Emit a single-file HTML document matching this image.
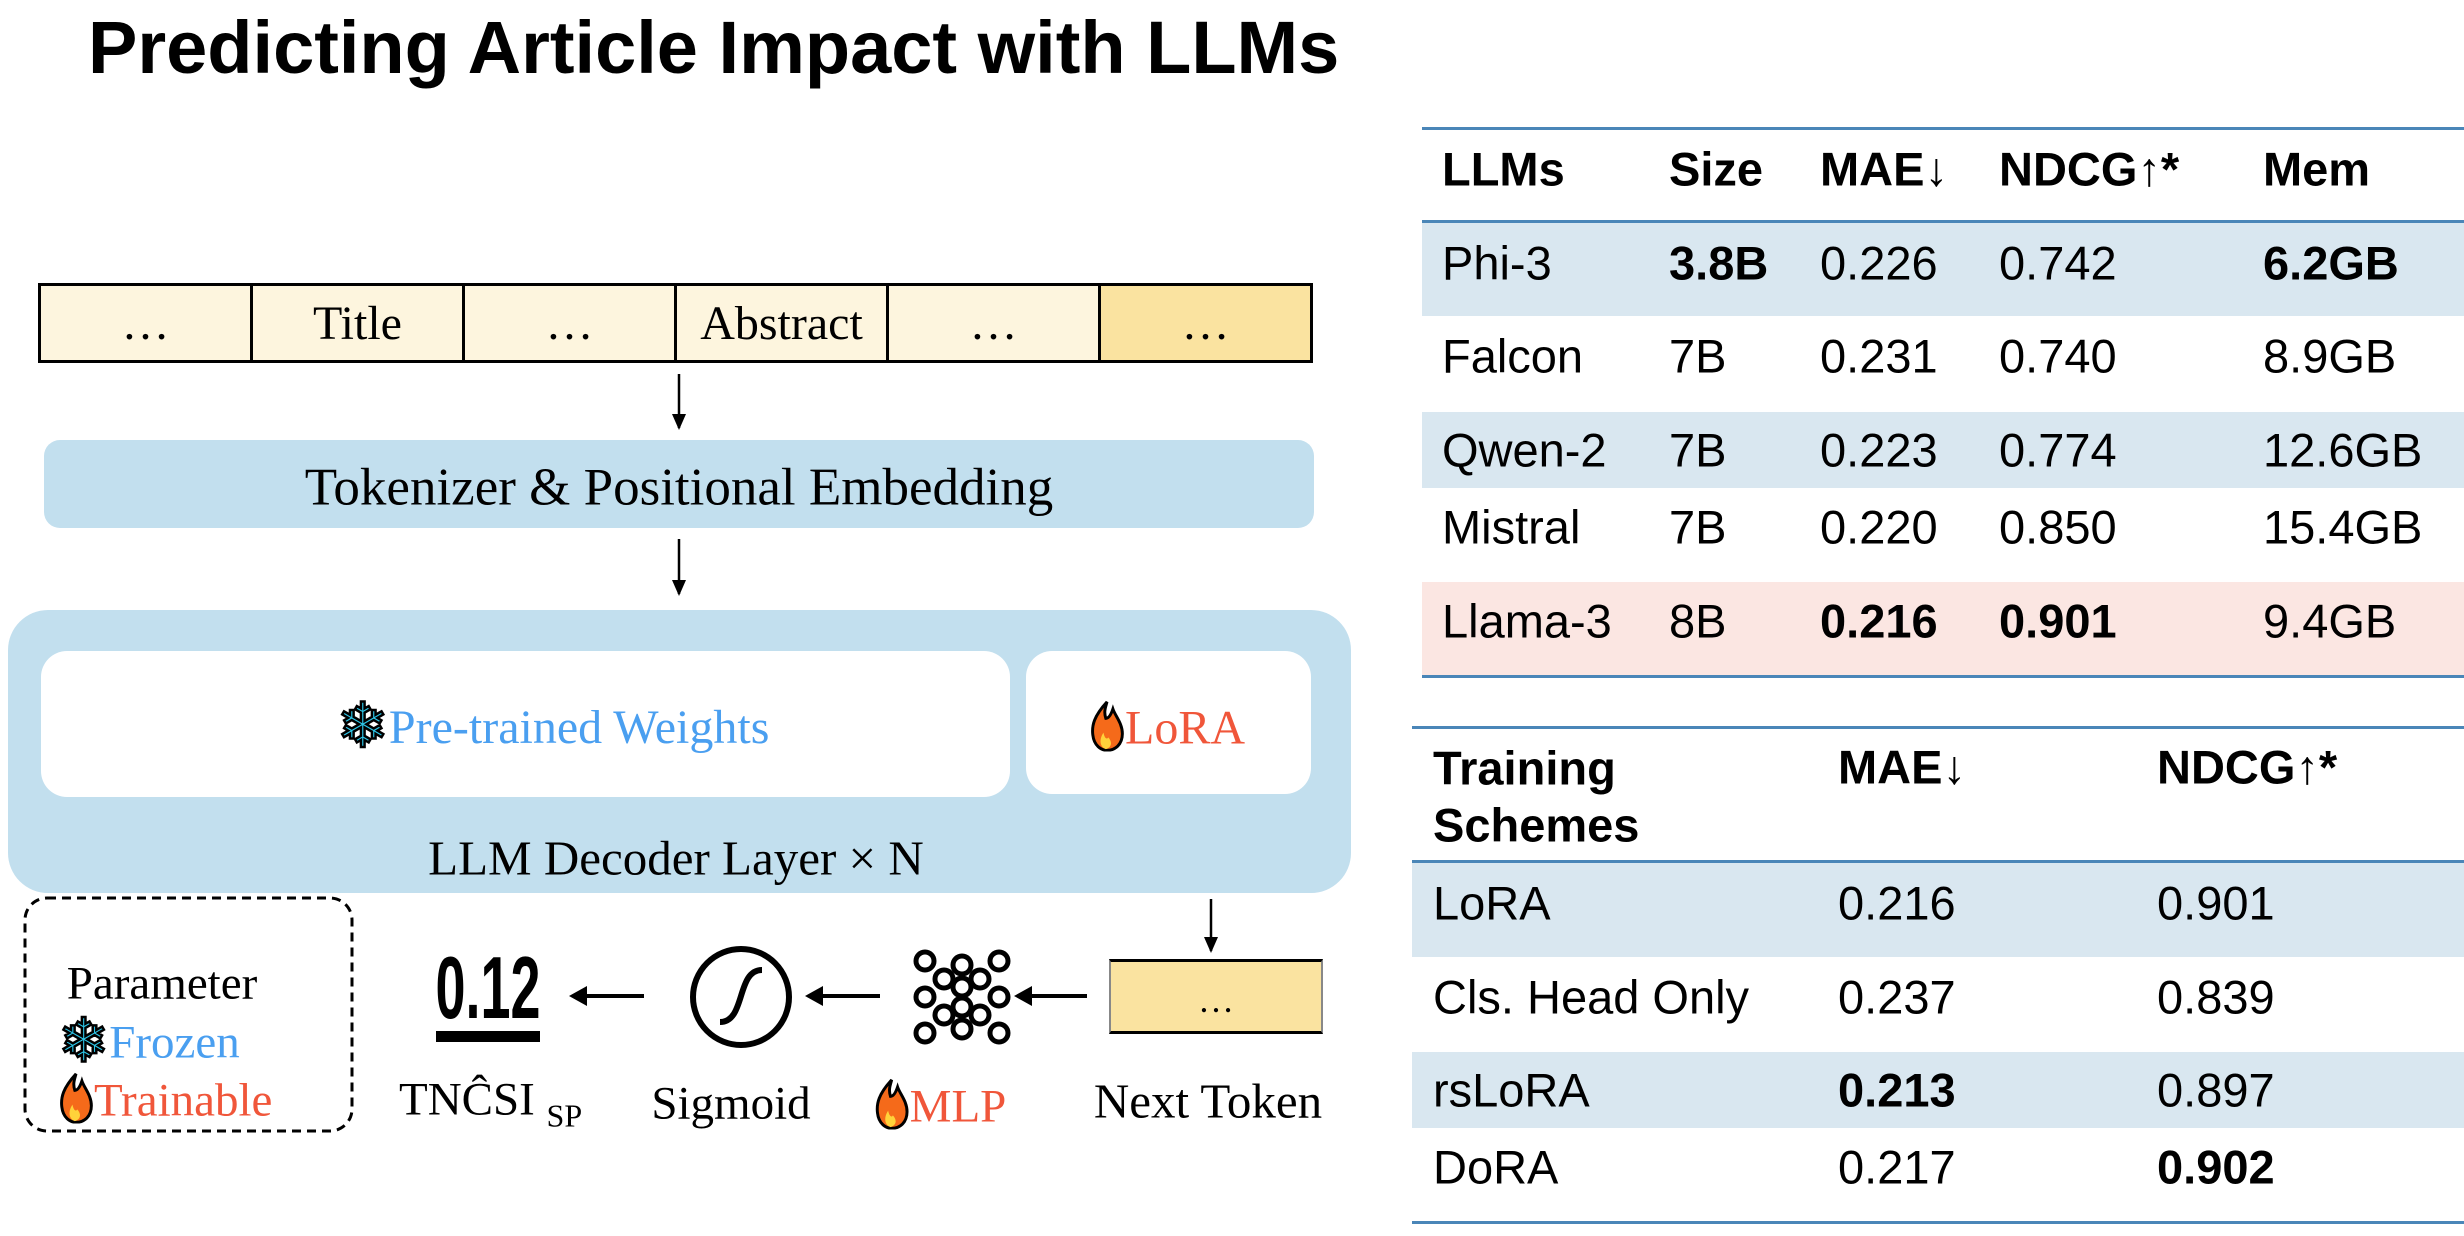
<!DOCTYPE html>
<html><head><meta charset="utf-8">
<style>
body{margin:0;width:2464px;height:1236px;background:#fff;position:relative;overflow:hidden;font-family:"Liberation Sans",sans-serif}
.a{position:absolute}
.t{position:absolute;white-space:nowrap;line-height:1;transform:translateY(-50%)}
.ser{font-family:"Liberation Serif",serif}
.c{transform:translate(-50%,-50%)}
.cell{position:absolute;top:0;height:100%;border-right:3px solid #000;box-sizing:border-box;display:flex;align-items:center;justify-content:center;font-family:"Liberation Serif",serif;font-size:48px}
.hl{position:absolute;height:3px;background:#4a86b8}
.tb{font-size:47px}
b{font-weight:bold}
.sf{color:#2ec6e8;-webkit-text-stroke:2.5px #000;font-size:1.3em;vertical-align:-4px;font-family:"DejaVu Sans",sans-serif}
</style></head><body>
<div class="t" style="left:88px;top:48px;font-size:74px;font-weight:bold">Predicting Article Impact with LLMs</div>

<!-- token bar -->
<div class="a" style="left:38px;top:283px;width:1275px;height:80px;border:3px solid #000;box-sizing:border-box;background:#fdf5de">
 <div class="cell" style="left:0;width:212px">…</div>
 <div class="cell" style="left:212px;width:212px">Title</div>
 <div class="cell" style="left:424px;width:212px">…</div>
 <div class="cell" style="left:636px;width:212px">Abstract</div>
 <div class="cell" style="left:848px;width:212px">…</div>
 <div class="cell" style="left:1060px;width:209px;border-right:none;background:#fae3a0">…</div>
</div>

<svg class="a" style="left:0;top:0" width="2464" height="1236">
 <g stroke="#000" stroke-width="2.5" fill="none">
  <line x1="679" y1="374" x2="679" y2="428"/>
  <line x1="679" y1="539" x2="679" y2="594"/>
  <line x1="1211" y1="899" x2="1211" y2="951"/>
 </g>
 <path d="M672,414 L679,430 L686,414 z"/>
 <path d="M672,580 L679,596 L686,580 z"/>
 <path d="M1204,937 L1211,953 L1218,937 z"/>
 <g stroke="#000" stroke-width="4">
  <line x1="1030" y1="996" x2="1087" y2="996"/>
  <line x1="820" y1="996" x2="880" y2="996"/>
  <line x1="585" y1="996" x2="644" y2="996"/>
 </g>
 <path d="M1014,996 L1032,986 L1032,1006 z"/>
 <path d="M805,996 L823,986 L823,1006 z"/>
 <path d="M569,996 L587,986 L587,1006 z"/>
 <!-- sigmoid -->
 <ellipse cx="741" cy="997" rx="48" ry="48" fill="none" stroke="#000" stroke-width="6"/>
 <path d="M720,1022 C746,1022 736,970 762,970" fill="none" stroke="#000" stroke-width="6"/>
 <!-- MLP -->
 <g fill="none" stroke="#000" stroke-width="5">
  <circle cx="925" cy="961" r="9"/><circle cx="999" cy="961" r="9"/>
  <circle cx="925" cy="997" r="9"/><circle cx="999" cy="997" r="9"/>
  <circle cx="925" cy="1033" r="9"/><circle cx="999" cy="1033" r="9"/>
  <circle cx="962" cy="965" r="9"/><circle cx="962" cy="987" r="9"/><circle cx="962" cy="1007" r="9"/><circle cx="962" cy="1029" r="9"/>
  <circle cx="944" cy="979" r="9"/><circle cx="980" cy="979" r="9"/>
  <circle cx="944" cy="1015" r="9"/><circle cx="980" cy="1015" r="9"/>
 </g>
 <!-- 0.12 -->
 <text x="488" y="1018" font-family="Liberation Sans" font-size="88" font-weight="bold" text-anchor="middle" textLength="105" lengthAdjust="spacingAndGlyphs">0.12</text>
 <rect x="436" y="1031" width="104" height="11"/>
 <!-- legend box -->
 <rect x="25" y="898" width="327" height="233" rx="22" fill="none" stroke="#000" stroke-width="3" stroke-dasharray="9,6"/>
</svg>

<!-- tokenizer -->
<div class="a" style="left:44px;top:440px;width:1270px;height:88px;background:#c2dfee;border-radius:16px"></div>
<div class="t ser c" style="left:679px;top:488px;font-size:53px">Tokenizer &amp; Positional Embedding</div>

<!-- decoder -->
<div class="a" style="left:8px;top:610px;width:1343px;height:283px;background:#c2dfee;border-radius:40px"></div>
<div class="a" style="left:41px;top:651px;width:969px;height:146px;background:#fff;border-radius:26px"></div>
<div class="a" style="left:1026px;top:651px;width:285px;height:143px;background:#fff;border-radius:26px"></div>
<div class="t ser c" style="left:553px;top:726px;font-size:48px;color:#4a9ff0"><span class="sf">❄</span>Pre-trained Weights</div>
<div class="t ser c" style="left:1167px;top:726px;font-size:48px;color:#f0563a"><svg width="36" height="52" viewBox="0 0 30 44" style="vertical-align:-8px"><path d="M15,2 C4,14 2,22 3,30 C4,39 10,43 15,43 C22,43 28,38 28,29 C28,20 22,14 20,8 C18,14 16,16 14,16 C12,10 14,6 15,2 z" fill="#f56a1a" stroke="#000" stroke-width="2.5"/><path d="M14,42 C9,40 8,34 12,28 C13,33 15,34 16,32 C19,35 20,40 14,42 z" fill="#ffd23a"/></svg>LoRA</div>
<div class="t ser c" style="left:676px;top:858px;font-size:49px">LLM Decoder Layer × N</div>

<!-- next token -->
<div class="a" style="left:1109px;top:959px;width:214px;height:75px;background:#fae3a0;border-top:3px solid #000;border-bottom:3px solid #000;border-left:2px solid #888;border-right:2px solid #888;box-sizing:border-box"></div>
<div class="t ser c" style="left:1216px;top:1000px;font-size:36px">…</div>
<div class="t ser c" style="left:1208px;top:1101px;font-size:49px">Next Token</div>
<div class="t ser c" style="left:731px;top:1104px;font-size:47px">Sigmoid</div>
<div class="t ser c" style="left:940px;top:1104px;font-size:47px;color:#f0563a"><svg width="36" height="52" viewBox="0 0 30 44" style="vertical-align:-8px"><path d="M15,2 C4,14 2,22 3,30 C4,39 10,43 15,43 C22,43 28,38 28,29 C28,20 22,14 20,8 C18,14 16,16 14,16 C12,10 14,6 15,2 z" fill="#f56a1a" stroke="#000" stroke-width="2.5"/><path d="M14,42 C9,40 8,34 12,28 C13,33 15,34 16,32 C19,35 20,40 14,42 z" fill="#ffd23a"/></svg>MLP</div>
<div class="t ser" style="left:399px;top:1100px;font-size:47px">TNĈSI <span style="font-size:32px;position:relative;top:12px">SP</span></div>

<!-- legend -->
<div class="t ser c" style="left:162px;top:984px;font-size:47px">Parameter</div>
<div class="t ser" style="left:58px;top:1041px;font-size:47px;color:#4a9ff0"><span class="sf">❄</span>Frozen</div>
<div class="t ser" style="left:58px;top:1098px;font-size:47px;color:#f0563a"><svg width="36" height="52" viewBox="0 0 30 44" style="vertical-align:-8px"><path d="M15,2 C4,14 2,22 3,30 C4,39 10,43 15,43 C22,43 28,38 28,29 C28,20 22,14 20,8 C18,14 16,16 14,16 C12,10 14,6 15,2 z" fill="#f56a1a" stroke="#000" stroke-width="2.5"/><path d="M14,42 C9,40 8,34 12,28 C13,33 15,34 16,32 C19,35 20,40 14,42 z" fill="#ffd23a"/></svg>Trainable</div>

<!-- table 1 -->
<div class="a" style="left:1422px;top:222px;width:1042px;height:94px;background:#d9e7f0"></div>
<div class="a" style="left:1422px;top:412px;width:1042px;height:76px;background:#d9e7f0"></div>
<div class="a" style="left:1422px;top:582px;width:1042px;height:94px;background:#fbe6e2"></div>
<div class="hl" style="left:1422px;top:127px;width:1042px"></div>
<div class="hl" style="left:1422px;top:220px;width:1042px"></div>
<div class="hl" style="left:1422px;top:675px;width:1042px"></div>
<div class="tb">
<div class="t" style="left:1442px;top:169px"><b>LLMs</b></div>
<div class="t" style="left:1669px;top:169px"><b>Size</b></div>
<div class="t" style="left:1820px;top:169px"><b>MAE</b>↓</div>
<div class="t" style="left:1999px;top:169px"><b>NDCG</b>↑<b>*</b></div>
<div class="t" style="left:2263px;top:169px"><b>Mem</b></div>

<div class="t" style="left:1442px;top:263px">Phi-3</div><div class="t" style="left:1669px;top:263px"><b>3.8B</b></div><div class="t" style="left:1820px;top:263px">0.226</div><div class="t" style="left:1999px;top:263px">0.742</div><div class="t" style="left:2263px;top:263px"><b>6.2GB</b></div>
<div class="t" style="left:1442px;top:356px">Falcon</div><div class="t" style="left:1669px;top:356px">7B</div><div class="t" style="left:1820px;top:356px">0.231</div><div class="t" style="left:1999px;top:356px">0.740</div><div class="t" style="left:2263px;top:356px">8.9GB</div>
<div class="t" style="left:1442px;top:450px">Qwen-2</div><div class="t" style="left:1669px;top:450px">7B</div><div class="t" style="left:1820px;top:450px">0.223</div><div class="t" style="left:1999px;top:450px">0.774</div><div class="t" style="left:2263px;top:450px">12.6GB</div>
<div class="t" style="left:1442px;top:527px">Mistral</div><div class="t" style="left:1669px;top:527px">7B</div><div class="t" style="left:1820px;top:527px">0.220</div><div class="t" style="left:1999px;top:527px">0.850</div><div class="t" style="left:2263px;top:527px">15.4GB</div>
<div class="t" style="left:1442px;top:621px">Llama-3</div><div class="t" style="left:1669px;top:621px">8B</div><div class="t" style="left:1820px;top:621px"><b>0.216</b></div><div class="t" style="left:1999px;top:621px"><b>0.901</b></div><div class="t" style="left:2263px;top:621px">9.4GB</div>
</div>

<!-- table 2 -->
<div class="a" style="left:1412px;top:862px;width:1052px;height:95px;background:#d9e7f0"></div>
<div class="a" style="left:1412px;top:1052px;width:1052px;height:76px;background:#d9e7f0"></div>
<div class="hl" style="left:1412px;top:726px;width:1052px"></div>
<div class="hl" style="left:1412px;top:860px;width:1052px"></div>
<div class="hl" style="left:1412px;top:1221px;width:1052px"></div>
<div class="tb">
<div class="t" style="left:1433px;top:768px"><b>Training</b></div>
<div class="t" style="left:1433px;top:825px"><b>Schemes</b></div>
<div class="t" style="left:1838px;top:767px"><b>MAE</b>↓</div>
<div class="t" style="left:2157px;top:767px"><b>NDCG</b>↑<b>*</b></div>
<div class="t" style="left:1433px;top:903px">LoRA</div><div class="t" style="left:1838px;top:903px">0.216</div><div class="t" style="left:2157px;top:903px">0.901</div>
<div class="t" style="left:1433px;top:997px">Cls. Head Only</div><div class="t" style="left:1838px;top:997px">0.237</div><div class="t" style="left:2157px;top:997px">0.839</div>
<div class="t" style="left:1433px;top:1090px">rsLoRA</div><div class="t" style="left:1838px;top:1090px"><b>0.213</b></div><div class="t" style="left:2157px;top:1090px">0.897</div>
<div class="t" style="left:1433px;top:1167px">DoRA</div><div class="t" style="left:1838px;top:1167px">0.217</div><div class="t" style="left:2157px;top:1167px"><b>0.902</b></div>
</div>
</body></html>
